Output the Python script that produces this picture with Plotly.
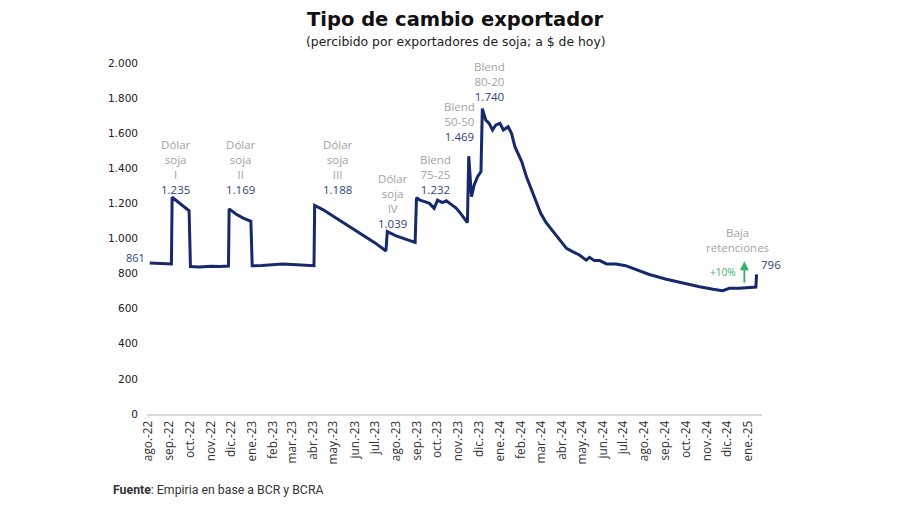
import plotly.graph_objects as go

# ---------------- data ----------------
dates = [
    "2022-08-03", "2022-08-15", "2022-08-25", "2022-09-04",
    "2022-09-05", "2022-09-12", "2022-09-20", "2022-09-30",
    "2022-10-02", "2022-10-15", "2022-11-01", "2022-11-15", "2022-11-27",
    "2022-11-28", "2022-12-08", "2022-12-18", "2022-12-30",
    "2023-01-01", "2023-01-15", "2023-02-01", "2023-02-15", "2023-03-01", "2023-03-15", "2023-04-02",
    "2023-04-03", "2023-04-15", "2023-05-01", "2023-05-15", "2023-06-01", "2023-06-15", "2023-07-01", "2023-07-17",
    "2023-07-19", "2023-08-01", "2023-08-15", "2023-08-29",
    "2023-08-31", "2023-09-05", "2023-09-12", "2023-09-19", "2023-09-26", "2023-10-01", "2023-10-08",
    "2023-10-14", "2023-10-19", "2023-10-23", "2023-10-28", "2023-11-02", "2023-11-08", "2023-11-14",
    "2023-11-16", "2023-11-20", "2023-11-24", "2023-11-29", "2023-12-04",
    "2023-12-06", "2023-12-11", "2023-12-16", "2023-12-21", "2023-12-26", "2024-01-01", "2024-01-06",
    "2024-01-13", "2024-01-18", "2024-01-23", "2024-01-28", "2024-02-02", "2024-02-09", "2024-02-17",
    "2024-02-24", "2024-03-01", "2024-03-09", "2024-03-18", "2024-03-28", "2024-04-08", "2024-04-17",
    "2024-04-27", "2024-05-07", "2024-05-12", "2024-05-19", "2024-05-27", "2024-06-06", "2024-06-20",
    "2024-07-04", "2024-07-14", "2024-07-24", "2024-08-08", "2024-09-02", "2024-09-27", "2024-10-21",
    "2024-11-10", "2024-11-24", "2024-12-04", "2024-12-19", "2025-01-12", "2025-01-13",
]
values = [
    861, 858, 856, 855,
    1235, 1212, 1186, 1158,
    840, 838, 842, 840, 843,
    1169, 1140, 1118, 1098,
    845, 846, 850, 855, 852, 848, 845,
    1188, 1165, 1125, 1090, 1050, 1010, 975, 929,
    1039, 1015, 995, 978,
    1232, 1219, 1210, 1200, 1172, 1219, 1205,
    1215, 1200, 1191, 1175, 1153, 1120, 1090,
    1469, 1238, 1305, 1352, 1381,
    1740, 1675, 1656, 1618, 1647, 1656, 1618,
    1637, 1599, 1523, 1485, 1438, 1352, 1276,
    1200, 1144, 1090, 1048, 1000, 944, 925,
    906, 877, 893, 874, 874, 855, 855,
    845, 830, 817, 795, 768, 745, 725,
    711, 703, 716, 716, 723, 796,
]

tick_dates = [
    "2022-08-01", "2022-09-01", "2022-10-01", "2022-11-01", "2022-12-01",
    "2023-01-01", "2023-02-01", "2023-03-01", "2023-04-01", "2023-05-01", "2023-06-01",
    "2023-07-01", "2023-08-01", "2023-09-01", "2023-10-01", "2023-11-01", "2023-12-01",
    "2024-01-01", "2024-02-01", "2024-03-01", "2024-04-01", "2024-05-01", "2024-06-01",
    "2024-07-01", "2024-08-01", "2024-09-01", "2024-10-01", "2024-11-01", "2024-12-01",
    "2025-01-01",
]
tick_labels = [
    "ago.-22", "sep.-22", "oct.-22", "nov.-22", "dic.-22",
    "ene.-23", "feb.-23", "mar.-23", "abr.-23", "may.-23", "jun.-23",
    "jul.-23", "ago.-23", "sep.-23", "oct.-23", "nov.-23", "dic.-23",
    "ene.-24", "feb.-24", "mar.-24", "abr.-24", "may.-24", "jun.-24",
    "jul.-24", "ago.-24", "sep.-24", "oct.-24", "nov.-24", "dic.-24",
    "ene.-25",
]
y_ticks = [0, 200, 400, 600, 800, 1000, 1200, 1400, 1600, 1800, 2000]

# event labels: (gray text, value, anchor date, anchor y)
event_names = ["Dólar<br>soja<br>I", "Dólar<br>soja<br>II", "Dólar<br>soja<br>III", "Dólar<br>soja<br>IV",
               "Blend<br>75-25", "Blend<br>50-50", "Blend<br>80-20"]
event_values = [1235, 1169, 1188, 1039, 1232, 1469, 1740]
event_x = ["2022-09-10", "2022-12-15", "2023-05-07", "2023-07-27", "2023-09-28", "2023-11-03", "2023-12-17"]
event_y = [1410, 1410, 1410, 1211, 1364, 1666, 1894]

start_value = 861
end_value = 796

GRAY = "#a3a3a3"
NAVY_TXT = "#2d4484"
LINE = "#16296a"
GREEN = "#33b06a"
FONT = "Open Sans"


def fmt(v):
    return f"{v:,}".replace(",", ".")


fig = go.Figure()
fig.add_trace(go.Scatter(x=dates, y=values, mode="lines",
                         line=dict(color=LINE, width=3), hoverinfo="skip"))

ann = []
for name, val, xx, yy in zip(event_names, event_values, event_x, event_y):
    ann.append(dict(x=xx, y=yy, xref="x", yref="y", showarrow=False,
                    text=f"<span style='color:{GRAY}'>{name}</span><br>"
                         f"<span style='color:{NAVY_TXT}'>{fmt(val)}</span>",
                    font=dict(family=FONT, size=11.5), align="center",
                    xanchor="center", yanchor="middle"))

ann.append(dict(x="2022-07-30", y=889, xref="x", yref="y", showarrow=False,
                text=fmt(start_value), font=dict(family=FONT, size=11, color=NAVY_TXT),
                xanchor="right", yanchor="middle"))
ann.append(dict(x="2024-12-16", y=991, xref="x", yref="y", showarrow=False,
                text="Baja<br>retenciones", font=dict(family=FONT, size=11.5, color=GRAY),
                xanchor="center", yanchor="middle", align="center"))
ann.append(dict(x="2024-11-24", y=809, xref="x", yref="y", showarrow=False,
                text="+10%", font=dict(family=FONT, size=10, color=GREEN),
                xanchor="center", yanchor="middle"))
ann.append(dict(x="2025-01-16", y=852, xref="x", yref="y", showarrow=False,
                text=fmt(end_value), font=dict(family=FONT, size=11.5, color=NAVY_TXT),
                xanchor="left", yanchor="middle"))
ann.append(dict(x="2024-12-26", y=870, ax="2024-12-26", ay=741, xref="x", yref="y",
                axref="x", ayref="y", showarrow=True, arrowhead=2, arrowsize=1,
                arrowwidth=1.8, arrowcolor=GREEN, text=""))

# title, subtitle, source
ann.append(dict(x=0.502, y=1.123, xref="paper", yref="paper", showarrow=False,
                text="<b>Tipo de cambio exportador</b>",
                font=dict(family="DejaVu Sans", size=19.5, color="#111111"),
                xanchor="center", yanchor="middle"))
ann.append(dict(x=0.502, y=1.06, xref="paper", yref="paper", showarrow=False,
                text="(percibido por exportadores de soja; a $ de hoy)",
                font=dict(family="DejaVu Sans", size=12.4, color="#222222"),
                xanchor="center", yanchor="middle"))
ann.append(dict(x=-0.058, y=-0.217, xref="paper", yref="paper", showarrow=False,
                text="<b>Fuente</b>: Empiria en base a BCR y BCRA",
                font=dict(family="Roboto", size=12.3, color="#333333"),
                xanchor="left", yanchor="middle"))

# page body has an 8px margin, so offset the plot area accordingly
fig.update_layout(
    width=900, height=505,
    paper_bgcolor="white", plot_bgcolor="white",
    margin=dict(l=139, r=146, t=55, b=99),
    showlegend=False,
    separators=",.",
    annotations=ann,
    xaxis=dict(type="date", range=["2022-07-30", "2025-01-21"],
               tickvals=tick_dates, ticktext=tick_labels, tickangle=-90,
               showgrid=False, zeroline=False, showline=True,
               linecolor="#d9d9d9", linewidth=2, ticks="",
               tickfont=dict(family=FONT, size=11.8, color="#333333")),
    yaxis=dict(range=[0, 2000], tickvals=y_ticks, tickformat=",d",
               showgrid=False, zeroline=False, showline=False, ticks="",
               ticklabelstandoff=8,
               tickfont=dict(family="DejaVu Sans", size=10.5, color="#222222")),
)

fig.write_html("out.html")
